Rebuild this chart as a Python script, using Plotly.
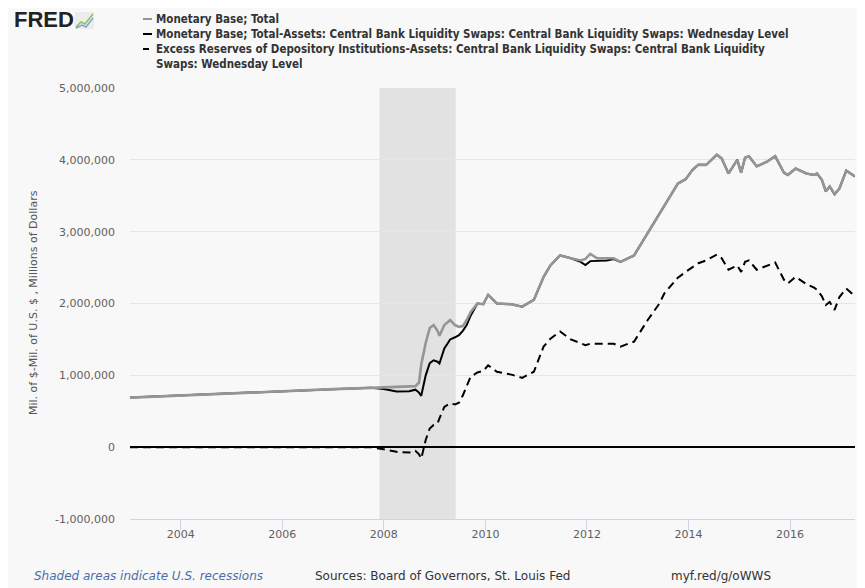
import plotly.graph_objects as go

# ---------------- data (millions of dollars) ----------------
dates = [
    "2003-01-01", "2004-01-01", "2005-01-01", "2006-01-01", "2007-01-01",
    "2007-10-01", "2008-01-01", "2008-04-01", "2008-07-01", "2008-08-15",
    "2008-09-10", "2008-09-26", "2008-10-28", "2008-11-26", "2008-12-24",
    "2009-01-21", "2009-02-04", "2009-03-11", "2009-04-22", "2009-05-27",
    "2009-06-24", "2009-07-22", "2009-08-19", "2009-09-16", "2009-11-04",
    "2009-12-16", "2010-01-20", "2010-03-24", "2010-07-07", "2010-09-22",
    "2010-12-15", "2011-02-23", "2011-04-13", "2011-06-22", "2011-09-07",
    "2011-11-16", "2011-12-21", "2012-01-25", "2012-03-14", "2012-05-23",
    "2012-07-11", "2012-08-29", "2012-12-05", "2013-03-13", "2013-06-05",
    "2013-07-10", "2013-10-16", "2013-12-11", "2014-01-29", "2014-03-12",
    "2014-05-07", "2014-07-23", "2014-08-27", "2014-10-15", "2014-12-17",
    "2015-01-14", "2015-02-11", "2015-03-11", "2015-05-06", "2015-07-15",
    "2015-09-16", "2015-11-18", "2015-12-16", "2016-02-10", "2016-04-27",
    "2016-06-22", "2016-07-13", "2016-08-17", "2016-09-14", "2016-10-12",
    "2016-11-16", "2016-12-21", "2017-02-08", "2017-04-12",
]

monetary_base = [
    690000, 720000, 755000, 785000, 808000,
    826000, 830000, 835000, 845000, 850000,
    900000, 1150000, 1450000, 1660000, 1700000,
    1620000, 1550000, 1700000, 1770000, 1700000,
    1675000, 1685000, 1770000, 1880000, 2000000,
    1990000, 2120000, 2000000, 1990000, 1955000,
    2050000, 2370000, 2530000, 2670000, 2630000,
    2600000, 2620000, 2690000, 2630000, 2630000,
    2630000, 2580000, 2670000, 2980000, 3250000,
    3360000, 3670000, 3730000, 3860000, 3930000,
    3930000, 4070000, 4020000, 3810000, 4000000,
    3820000, 4030000, 4050000, 3910000, 3970000,
    4050000, 3820000, 3790000, 3880000, 3810000,
    3790000, 3810000, 3720000, 3560000, 3630000,
    3520000, 3600000, 3850000, 3770000,
]

base_less_swaps = [
    690000, 720000, 755000, 785000, 808000,
    826000, 810000, 775000, 780000, 800000,
    760000, 715000, 1000000, 1170000, 1210000,
    1190000, 1165000, 1375000, 1500000, 1530000,
    1560000, 1620000, 1700000, 1830000, 2000000,
    1990000, 2120000, 2000000, 1990000, 1955000,
    2050000, 2370000, 2530000, 2670000, 2630000,
    2580000, 2535000, 2590000, 2590000, 2600000,
    2620000, 2580000, 2670000, 2980000, 3250000,
    3360000, 3670000, 3730000, 3860000, 3930000,
    3930000, 4070000, 4020000, 3810000, 4000000,
    3820000, 4030000, 4050000, 3910000, 3970000,
    4050000, 3820000, 3790000, 3880000, 3810000,
    3790000, 3810000, 3720000, 3560000, 3630000,
    3520000, 3600000, 3850000, 3770000,
]

excess_less_swaps = [
    0, 0, 0, 0, 0,
    0, -30000, -65000, -75000, -50000,
    -100000, -160000, 100000, 260000, 310000,
    330000, 400000, 560000, 610000, 595000,
    620000, 720000, 850000, 980000, 1040000,
    1060000, 1140000, 1050000, 1010000, 965000,
    1050000, 1400000, 1510000, 1610000, 1500000,
    1450000, 1420000, 1440000, 1440000, 1440000,
    1440000, 1400000, 1470000, 1770000, 2000000,
    2140000, 2360000, 2440000, 2500000, 2560000,
    2600000, 2680000, 2630000, 2470000, 2530000,
    2440000, 2580000, 2600000, 2470000, 2520000,
    2570000, 2330000, 2280000, 2370000, 2270000,
    2220000, 2190000, 2100000, 1980000, 2020000,
    1910000, 2090000, 2210000, 2100000,
]

series_names = [
    "Monetary Base; Total",
    "Monetary Base; Total-Assets: Central Bank Liquidity Swaps: Central Bank Liquidity Swaps: Wednesday Level",
    "Excess Reserves of Depository Institutions-Assets: Central Bank Liquidity Swaps: Central Bank Liquidity",
    "Swaps: Wednesday Level",
]

recession_start = "2007-12-01"
recession_end = "2009-06-01"

y_tick_vals = [-1000000, 0, 1000000, 2000000, 3000000, 4000000, 5000000]
y_tick_text = ["-1,000,000", "0", "1,000,000", "2,000,000", "3,000,000", "4,000,000", "5,000,000"]
x_tick_vals = ["2004-01-01", "2006-01-01", "2008-01-01", "2010-01-01", "2012-01-01", "2014-01-01", "2016-01-01"]
x_tick_text = ["2004", "2006", "2008", "2010", "2012", "2014", "2016"]

# ---------------- layout geometry ----------------
OFF = 8  # page body margin
W, H = 865 - OFF, 588 - OFF
L, R, T, B = 130 - OFF, 10, 88 - OFF, 588 - 519
PW, PH = W - L - R, H - T - B


def px(x):  # page pixel x -> paper coordinate
    return (x - OFF - L) / PW


def py(y):  # page pixel y -> paper coordinate
    return (H - B - (y - OFF)) / PH


TICK_FONT = dict(family="DejaVu Sans", size=11, color="#606060")
LEG_FONT = dict(family="DejaVu Sans Condensed", size=11.5, color="#333333", weight="bold")
FOOT_SIZE = 12

fig = go.Figure()
fig.add_trace(go.Scatter(x=dates, y=excess_less_swaps, mode="lines",
                         line=dict(color="#000000", width=2, dash="8px,5px"),
                         name=series_names[2] + " " + series_names[3], showlegend=False))
fig.add_trace(go.Scatter(x=dates, y=base_less_swaps, mode="lines",
                         line=dict(color="#000000", width=2), name=series_names[1],
                         showlegend=False))
fig.add_trace(go.Scatter(x=dates, y=monetary_base, mode="lines",
                         line=dict(color="#959595", width=2.6), name=series_names[0],
                         showlegend=False))

shapes = []
# recession band
shapes.append(dict(type="rect", xref="x", yref="paper", layer="below",
                   x0=recession_start, x1=recession_end, y0=0, y1=1,
                   fillcolor="#e2e2e2", line=dict(width=0)))

annotations = []
# FRED logo
annotations.append(dict(text="<b>FRED</b>", xref="paper", yref="paper", x=px(12), y=py(19),
                        xanchor="left", yanchor="middle", showarrow=False,
                        font=dict(family="Liberation Sans", size=22, color="#222222")))
# logo icon
shapes.append(dict(type="rect", xref="paper", yref="paper", x0=px(75), x1=px(94), y0=py(29), y1=py(12),
                   fillcolor="#ececec", line=dict(width=0)))
shapes.append(dict(type="path", xref="paper", yref="paper",
                   path=f"M {px(76)},{py(27)} L {px(81)},{py(22)} L {px(85)},{py(24)} L {px(93)},{py(14)}",
                   line=dict(color="#8fc05c", width=1.5)))
shapes.append(dict(type="path", xref="paper", yref="paper",
                   path=f"M {px(76)},{py(28)} L {px(82)},{py(25)} L {px(86)},{py(27)} L {px(93)},{py(18)}",
                   line=dict(color="#79a8d8", width=1.5)))

# legend (manual)
leg_rows = [19, 34, 49, 64]
sym_styles = [dict(color="#959595", width=2, dash="solid"),
              dict(color="#000000", width=2, dash="solid"),
              dict(color="#000000", width=2, dash="6px,3px")]
for i in range(3):
    shapes.append(dict(type="line", xref="paper", yref="paper",
                       x0=px(143), x1=px(152), y0=py(leg_rows[i]), y1=py(leg_rows[i]),
                       line=sym_styles[i]))
for i, name in enumerate(series_names):
    annotations.append(dict(text=name, xref="paper", yref="paper", x=px(154), y=py(leg_rows[i]),
                            xanchor="left", yanchor="middle", showarrow=False, font=LEG_FONT))

# y axis title
annotations.append(dict(text="Mil. of $-Mil. of U.S. $ , Millions of Dollars", xref="paper", yref="paper",
                        x=px(33), y=py(303), xanchor="center", yanchor="middle", textangle=-90,
                        showarrow=False, font=dict(family="DejaVu Sans", size=11, color="#555555")))
# footer
annotations.append(dict(text="<i>Shaded areas indicate U.S. recessions</i>", xref="paper", yref="paper",
                        x=px(32), y=py(576), xanchor="left", yanchor="middle", showarrow=False,
                        font=dict(family="DejaVu Sans", size=FOOT_SIZE, color="#4a6fa8")))
annotations.append(dict(text="Sources: Board of Governors, St. Louis Fed", xref="paper", yref="paper",
                        x=px(313), y=py(576), xanchor="left", yanchor="middle", showarrow=False,
                        font=dict(family="DejaVu Sans", size=FOOT_SIZE, color="#333333")))
annotations.append(dict(text="myf.red/g/oWWS", xref="paper", yref="paper",
                        x=px(669), y=py(576), xanchor="left", yanchor="middle", showarrow=False,
                        font=dict(family="DejaVu Sans", size=FOOT_SIZE, color="#333333")))

fig.update_layout(
    width=W, height=H,
    margin=dict(l=L, r=R, t=T, b=B, autoexpand=False),
    paper_bgcolor="#f8f8f8",
    plot_bgcolor="rgba(0,0,0,0)",
    showlegend=False,
    shapes=shapes,
    annotations=annotations,
    xaxis=dict(range=["2003-01-01", "2017-04-12"], tickvals=x_tick_vals, ticktext=x_tick_text,
               showgrid=False, showline=True, linecolor="#ccd6eb", linewidth=1,
               ticks="outside", ticklen=10, tickcolor="#ccd6eb", tickwidth=1,
               tickfont=TICK_FONT, zeroline=False, ticklabelstandoff=-5),
    yaxis=dict(range=[-1000000, 5000000], tickvals=y_tick_vals, ticktext=y_tick_text,
               showgrid=True, gridcolor="#e6e6e6", gridwidth=1,
               zeroline=True, zerolinecolor="#000000", zerolinewidth=2,
               showline=False, ticks="", tickfont=TICK_FONT, ticklabelstandoff=14),
)

fig.write_html("out.html")
